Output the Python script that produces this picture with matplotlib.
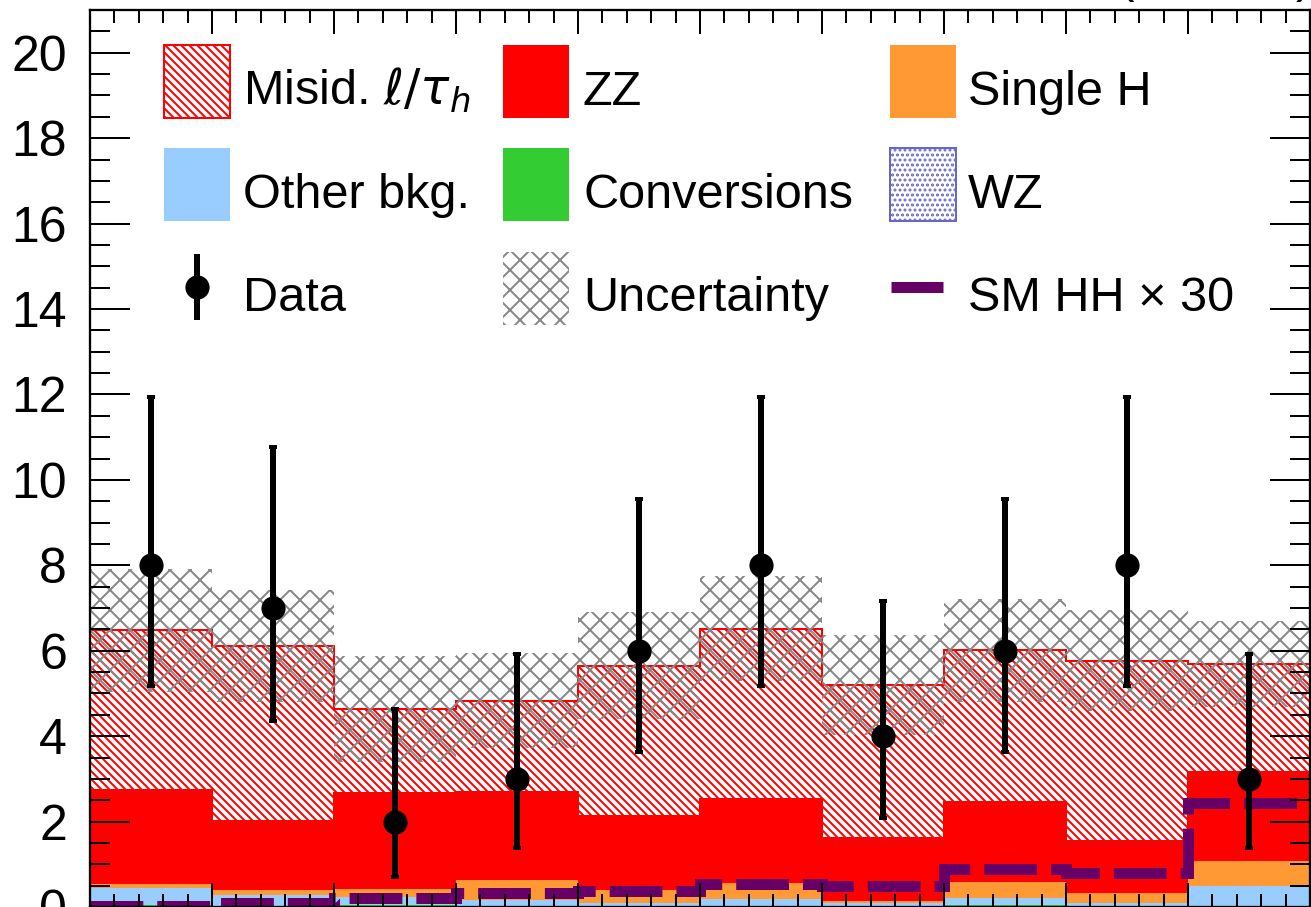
import numpy as np
import matplotlib
matplotlib.use("Agg")
import matplotlib.pyplot as plt
from matplotlib.patches import Rectangle
from matplotlib.lines import Line2D
from matplotlib.ticker import MultipleLocator

# ---------------- data ----------------
bin_edges = [0, 1, 2, 3, 4, 5, 6, 7, 8, 9, 10]
conversions = [0.05, 0.00, 0.05, 0.00, 0.00, 0.00, 0.00, 0.05, 0.00, 0.00]
wz = [0.00, 0.00, 0.00, 0.00, 0.00, 0.00, 0.00, 0.00, 0.00, 0.00]
other_bkg = [0.39, 0.28, 0.19, 0.16, 0.10, 0.18, 0.09, 0.15, 0.10, 0.48]
single_h = [0.11, 0.11, 0.19, 0.47, 0.30, 0.39, 0.05, 0.38, 0.22, 0.60]
zz = [2.19, 1.63, 2.24, 2.07, 1.73, 1.97, 1.48, 1.88, 1.23, 2.08]
misid = [3.74, 4.08, 1.97, 2.13, 3.52, 3.98, 3.58, 3.55, 4.22, 2.53]
unc_up = [7.91, 7.41, 5.87, 5.94, 6.90, 7.76, 6.36, 7.21, 6.96, 6.69]
unc_down = [5.04, 4.79, 3.40, 3.72, 4.40, 5.28, 4.03, 4.81, 4.60, 4.69]
sm_hh_x30 = [0.03, 0.09, 0.22, 0.32, 0.38, 0.55, 0.50, 0.89, 0.79, 2.44]
data = [8, 7, 2, 3, 6, 8, 4, 6, 8, 3]
data_hi = [11.95, 10.78, 4.64, 5.92, 9.56, 11.95, 7.17, 9.56, 11.95, 5.92]
data_lo = [5.17, 4.35, 0.70, 1.37, 3.62, 5.17, 2.09, 3.62, 5.17, 1.37]

labels = ["Misid. $\\ell/\\tau_h$", "ZZ", "Single H",
          "Other bkg.", "Conversions", "WZ",
          "Data", "Uncertainty", "SM HH \u00d7 30"]

# ---------------- style ----------------
W, H, DPI = 1311, 907, 120
P = 72.0 / DPI          # points per pixel

plt.rcParams['font.family'] = ['Liberation Sans', 'DejaVu Sans']
plt.rcParams['mathtext.fontset'] = 'dejavusans'
plt.rcParams['hatch.linewidth'] = 2.0 * P

fig = plt.figure(figsize=(W / DPI, H / DPI), dpi=DPI)
ax = fig.add_axes([90 / W, 0.0, (1310 - 90) / W, (907 - 10) / H])

edges = np.array(bin_edges, dtype=float)
centers = 0.5 * (edges[:-1] + edges[1:])

c_red = '#ff0000'
c_orange = '#ff9933'
c_blue = '#99ccff'
c_green = '#33cc33'
c_wz = '#6666cc'
c_hh = '#660066'
c_unc = '#888888'
H_MISID = '\\' * 5
H_UNC = 'xx'
H_WZ = '....'

layers = [
    (conversions, dict(facecolor=c_green, edgecolor='none')),
    (wz, dict(facecolor='white', edgecolor=c_wz, hatch=H_WZ)),
    (other_bkg, dict(facecolor=c_blue, edgecolor='none')),
    (single_h, dict(facecolor=c_orange, edgecolor='none')),
    (zz, dict(facecolor=c_red, edgecolor='none')),
]
bottom = np.zeros(len(data))
for vals, kw in layers:
    top = bottom + np.array(vals)
    ax.stairs(top, edges, baseline=bottom.copy(), fill=True, lw=0, **kw)
    bottom = top

total = bottom + np.array(misid)
ax.stairs(total, edges, baseline=bottom.copy(), fill=True,
          facecolor='white', edgecolor=c_red, hatch=H_MISID, lw=2.0 * P)

ax.stairs(unc_up, edges, baseline=unc_down, fill=True,
          facecolor='none', edgecolor=c_unc, hatch=H_UNC, lw=0)

ax.stairs(sm_hh_x30, edges, baseline=None, color=c_hh, lw=11 * P,
          linestyle=(0, (4.8, 1.27)))

d = np.array(data, dtype=float)
ax.errorbar(centers, d,
            yerr=[d - np.array(data_lo), np.array(data_hi) - d],
            fmt='o', color='black', ms=22.5 * P, elinewidth=6 * P,
            capsize=4 * P, capthick=4 * P)

# ---------------- axes ----------------
ax.set_xlim(edges[0], edges[-1])
ax.set_ylim(0, 21)
ax.xaxis.set_major_locator(MultipleLocator(1))
ax.xaxis.set_minor_locator(MultipleLocator(0.2))
ax.yaxis.set_major_locator(MultipleLocator(2))
ax.yaxis.set_minor_locator(MultipleLocator(0.5))
ax.tick_params(axis='both', which='both', direction='in', top=True, right=True,
               width=2.0 * P)
ax.tick_params(axis='y', which='major', length=40 * P)
ax.tick_params(axis='y', which='minor', length=20 * P)
ax.tick_params(axis='x', which='major', length=24 * P)
ax.tick_params(axis='x', which='minor', length=13 * P)
ax.tick_params(axis='y', labelsize=50 * P, pad=23 * P)
ax.tick_params(axis='x', labelbottom=False)
for s in ax.spines.values():
    s.set_linewidth(2.3 * P)

# ---------------- legend (drawn in figure pixel positions) ----------------
def fx(px):
    return px / W

def fy(py):
    return 1 - py / H

leg_fs = 48.6 * P
col_patch_x = [164, 503, 890]
col_text_x = [243, 583, 968]
row_top = [45, 148, 252]
row_base = [105, 208, 311]
pw, ph = 66, 73

def legend_box(col, row, **kw):
    r = Rectangle((fx(col_patch_x[col]), fy(row_top[row] + ph)),
                  pw / W, ph / H, transform=fig.transFigure, **kw)
    fig.add_artist(r)

legend_box(0, 0, facecolor='white', edgecolor=c_red, hatch=H_MISID, lw=2.0 * P)
legend_box(1, 0, facecolor=c_red, edgecolor='none')
legend_box(2, 0, facecolor=c_orange, edgecolor='none')
legend_box(0, 1, facecolor=c_blue, edgecolor='none')
legend_box(1, 1, facecolor=c_green, edgecolor='none')
legend_box(2, 1, facecolor='white', edgecolor=c_wz, hatch=H_WZ, lw=2.0 * P)
legend_box(1, 2, facecolor='none', edgecolor=c_unc, hatch=H_UNC, lw=0)

# Data entry: vertical bar with marker
fig.add_artist(Line2D([fx(197), fx(197)], [fy(257), fy(317)],
                      transform=fig.transFigure, color='black', lw=6 * P))
fig.add_artist(Line2D([fx(197)], [fy(287)], transform=fig.transFigure,
                      marker='o', ms=22.5 * P, color='black', lw=0))
# SM HH entry
fig.add_artist(Line2D([fx(891), fx(943)], [fy(287), fy(287)],
                      transform=fig.transFigure, color=c_hh, lw=11 * P,
                      solid_capstyle='butt'))

order = [(0, 0), (1, 0), (2, 0), (0, 1), (1, 1), (2, 1), (0, 2), (1, 2), (2, 2)]
for lab, (c, r) in zip(labels, order):
    fig.text(fx(col_text_x[c]), fy(row_base[r]), lab, fontsize=leg_fs,
             ha='left', va='baseline')

# header text (mostly outside the visible area, as in the reference)
fig.text(fx(1311), fy(-7), "138 fb$^{-1}$ (13 TeV)", ha='right',
         va='baseline', fontsize=50 * P)

fig.savefig("out.png", dpi=DPI)
